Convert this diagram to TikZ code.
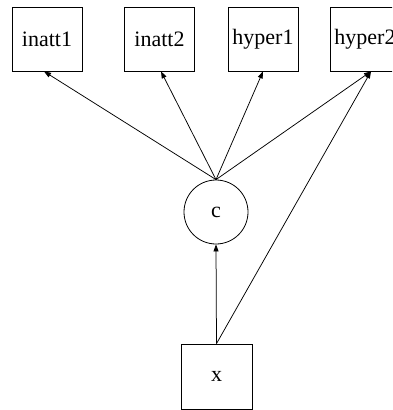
\documentclass[tikz,border=0pt]{standalone}
\usepackage{fontspec}
\newfontfamily\labelfont{Liberation Serif}
\usetikzlibrary{arrows.meta}
\begin{document}
\begin{tikzpicture}[x=1pt,y=-1pt,
  every node/.style={font=\labelfont\fontsize{22}{26}\selectfont, inner sep=0pt},
  obs/.style={draw, line width=0.8pt, minimum width=70pt, minimum height=64pt},
  lat/.style={draw, circle, line width=0.8pt, minimum size=64pt},
  path/.style={line width=0.75pt, -{Triangle[length=7pt,width=5pt]}}]
\useasboundingbox (0,0) rectangle (392,410);
\clip (0,0) rectangle (392,410);
% indicators
\node[obs] (inatt1) at (47,39) {inatt1};
\node[obs] (inatt2) at (159.5,39) {inatt2};
\node[obs] (hyper1) at (263,39) {hyper1};
\node[obs] (hyper2) at (365,39) {hyper2};
% latent factor and covariate
\node[lat] (c) at (216,212) {c};
\node[obs, minimum width=71pt, minimum height=65pt] (x) at (216.5,376.5) {x};
% loadings
\draw[path] (c.north) -- ([xshift=-3pt]inatt1.south);
\draw[path] (c.north) -- ([xshift=1.5pt]inatt2.south);
\draw[path] (c.north) -- (hyper1.south);
\draw[path] (c.north) -- ([xshift=6pt]hyper2.south);
% regressions on x
\draw[path] (x.north) -- (c.south);
\draw[path] (x.north) -- ([xshift=6pt]hyper2.south);
\end{tikzpicture}
\end{document}
